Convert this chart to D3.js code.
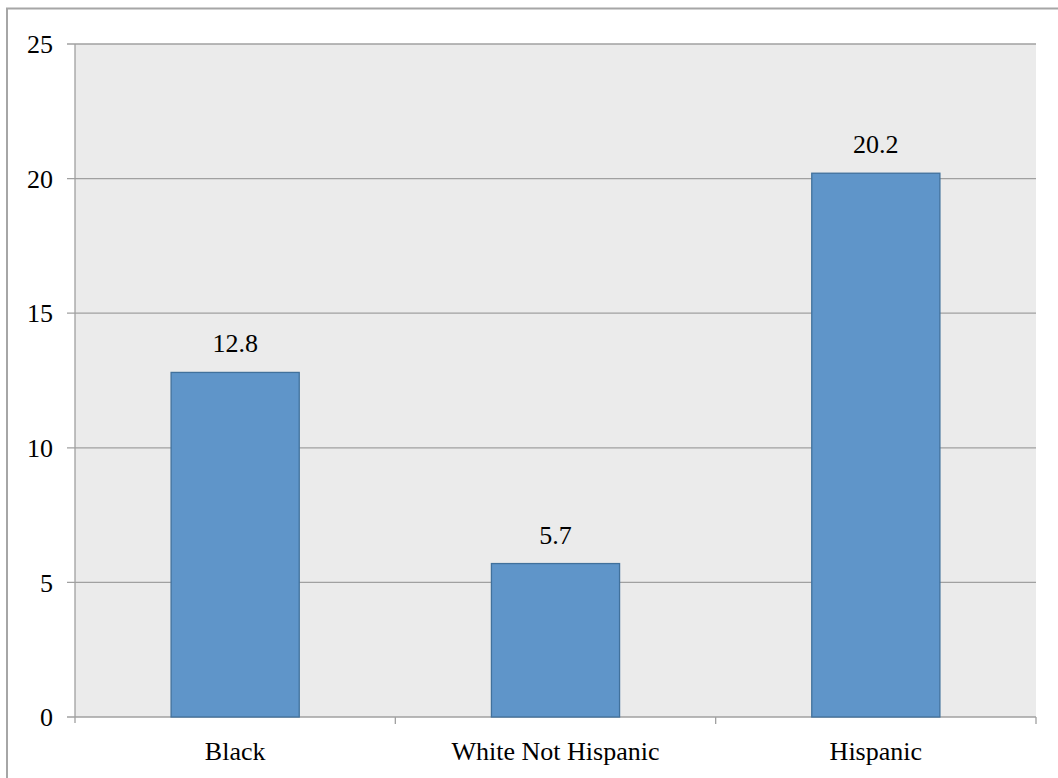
<!DOCTYPE html>
<html><head><meta charset="utf-8">
<script src="https://cdn.jsdelivr.net/npm/d3@7"></script>
<style>body{margin:0;background:#fff}svg{display:block}</style>
</head><body>
<svg id="c" width="1058" height="778"></svg>
<script>
const categories = ["Black", "White Not Hispanic", "Hispanic"];
const values = [12.8, 5.7, 20.2];
const yTicks = [0, 5, 10, 15, 20, 25];

(function () {
const svg = d3.select("#c");
const font = "'Liberation Serif','Times New Roman',serif";
const pL = 75, pR = 1036, pT = 44, pB = 717;

svg.append("rect").attr("x", 7).attr("y", 8.5).attr("width", 1100).attr("height", 900)
  .attr("fill", "none").attr("stroke", "#A6A6A6").attr("stroke-width", 2);

const x = d3.scaleBand().domain(categories).range([pL, pR]).paddingInner(0.6).paddingOuter(0.3);
const xb = d3.scaleBand().domain(categories).range([pL, pR]);
const y = d3.scaleLinear().domain([0, 25]).range([pB, pT]);

svg.append("rect").attr("x", pL).attr("y", pT).attr("width", pR - pL).attr("height", pB - pT).attr("fill", "#EBEBEB");

svg.append("g").selectAll("line").data(yTicks).join("line")
  .attr("x1", pL - 8).attr("x2", pR).attr("y1", d => y(d)).attr("y2", d => y(d))
  .attr("stroke", "#A0A0A0").attr("stroke-width", 1.3);

svg.append("line").attr("x1", pL).attr("x2", pL).attr("y1", pT).attr("y2", pB + 6)
  .attr("stroke", "#A0A0A0").attr("stroke-width", 1.3);

const bounds = categories.map(c => xb(c)).concat([pR]);
svg.append("g").selectAll("line").data(bounds.slice(1)).join("line")
  .attr("x1", d => d).attr("x2", d => d).attr("y1", pB).attr("y2", pB + 7)
  .attr("stroke", "#A0A0A0").attr("stroke-width", 1.3);

svg.append("g").selectAll("text").data(yTicks).join("text")
  .attr("x", 53).attr("y", d => y(d)).attr("dy", "0.35em").attr("text-anchor", "end")
  .attr("font-family", font).attr("font-size", 26).attr("fill", "#000").text(d => d);

svg.append("g").selectAll("rect").data(values).join("rect")
  .attr("x", (d, i) => x(categories[i])).attr("width", x.bandwidth())
  .attr("y", d => y(d)).attr("height", d => pB - y(d))
  .attr("fill", "#5F95C9").attr("stroke", "#41719C").attr("stroke-width", 1.3);

svg.append("g").selectAll("text").data(values).join("text")
  .attr("x", (d, i) => x(categories[i]) + x.bandwidth() / 2).attr("y", d => y(d) - 20)
  .attr("text-anchor", "middle").attr("font-family", font).attr("font-size", 26).text(d => d.toFixed(1));

svg.append("g").selectAll("text").data(categories).join("text")
  .attr("x", d => xb(d) + xb.bandwidth() / 2).attr("y", 760)
  .attr("text-anchor", "middle").attr("font-family", font).attr("font-size", 26).text(d => d);
})();
</script>
</body></html>
